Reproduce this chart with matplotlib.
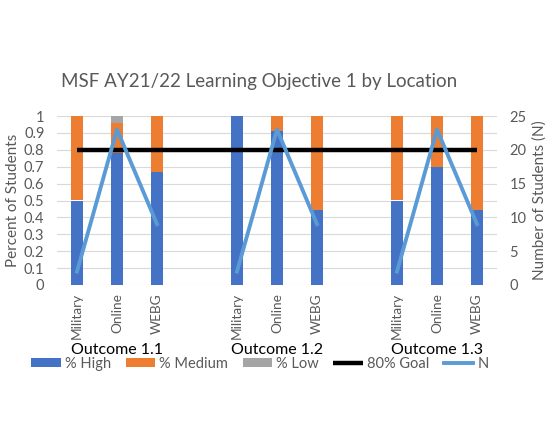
import matplotlib.pyplot as plt
import numpy as np

plt.rcParams['font.family'] = ['Lato', 'DejaVu Sans']

groups = ['Outcome 1.1', 'Outcome 1.2', 'Outcome 1.3']
locations = ['Military', 'Online', 'WEBG']

pct_high = [0.5, 0.783, 0.667, 1.0, 0.913, 0.444, 0.5, 0.696, 0.444]
pct_medium = [0.5, 0.174, 0.333, 0.0, 0.087, 0.556, 0.5, 0.304, 0.556]
pct_low = [0.0, 0.043, 0.0, 0.0, 0.0, 0.0, 0.0, 0.0, 0.0]
n_students = [2, 23, 9, 2, 23, 9, 2, 23, 9]
goal = 0.8

GRAY = '#595959'
# positions: three bars per group, one empty slot between groups
pos = np.array([g * 4 + i for g in range(len(groups)) for i in range(len(locations))])
high = np.array(pct_high)
med = np.array(pct_medium)
low = np.array(pct_low)

fig = plt.figure(figsize=(5.55, 4.44), dpi=100)
ax = fig.add_axes([57 / 555, 1 - 285 / 444, 440 / 555, 169 / 444])

w = 0.3
b1 = ax.bar(pos, high, w, color='#4472C4', label='% High', zorder=2)
b2 = ax.bar(pos, med, w, bottom=high, color='#ED7D31', label='% Medium', zorder=2)
b3 = ax.bar(pos, low, w, bottom=high + med, color='#A5A5A5', label='% Low', zorder=2)
gl, = ax.plot([pos[0], pos[-1]], [goal, goal], color='black', lw=3.2, label='80% Goal', zorder=3,
              solid_capstyle='butt')

ax.set_xlim(-0.5, 10.5)
ax.set_ylim(0, 1)
ax.set_yticks(np.arange(0, 1.01, 0.1))
ax.set_yticklabels(['0', '0.1', '0.2', '0.3', '0.4', '0.5', '0.6', '0.7', '0.8', '0.9', '1'])
ax.yaxis.grid(True, color='#D9D9D9', lw=0.8, zorder=0)
ax.set_axisbelow(True)
for s in ax.spines.values():
    s.set_visible(False)
ax.tick_params(axis='y', length=0, colors=GRAY, labelsize=10.5, pad=9)
ax.set_xticks(pos)
ax.set_xticklabels(locations * len(groups), rotation=90, color=GRAY, fontsize=9.8)
ax.tick_params(axis='x', length=0, pad=6)
ax.set_ylabel('Percent of Students', color=GRAY, fontsize=11, labelpad=3)

ax2 = ax.twinx()
nl = None
for g in range(len(groups)):
    sl = slice(g * 3, g * 3 + 3)
    nl, = ax2.plot(pos[sl], n_students[sl], color='#5B9BD5', lw=2.8, label='N', zorder=4)
ax2.set_ylim(0, 25)
ax2.set_yticks(range(0, 26, 5))
for s in ax2.spines.values():
    s.set_visible(False)
ax2.tick_params(axis='y', length=0, colors=GRAY, labelsize=10.5, pad=9)
ax2.set_ylabel('Number of Students (N)', color=GRAY, fontsize=11, labelpad=4)

for g, name in enumerate(groups):
    ax.text(g * 4 + 1, -0.385, name, ha='center', va='center', fontsize=11.5, color='black')

fig.text(259 / 555, 1 - 82 / 444, 'MSF AY21/22 Learning Objective 1 by Location', ha='center',
         va='center', fontsize=13.5, color=GRAY)

fig.legend(handles=[b1, b2, b3, gl, nl], loc='center', bbox_to_anchor=(260 / 555, 1 - 364 / 444),
           ncol=5, frameon=False, fontsize=10.5, labelcolor=GRAY, handlelength=2.0,
           handletextpad=0.3, columnspacing=1.0, handleheight=0.6)

fig.savefig('out.png', dpi=100)
